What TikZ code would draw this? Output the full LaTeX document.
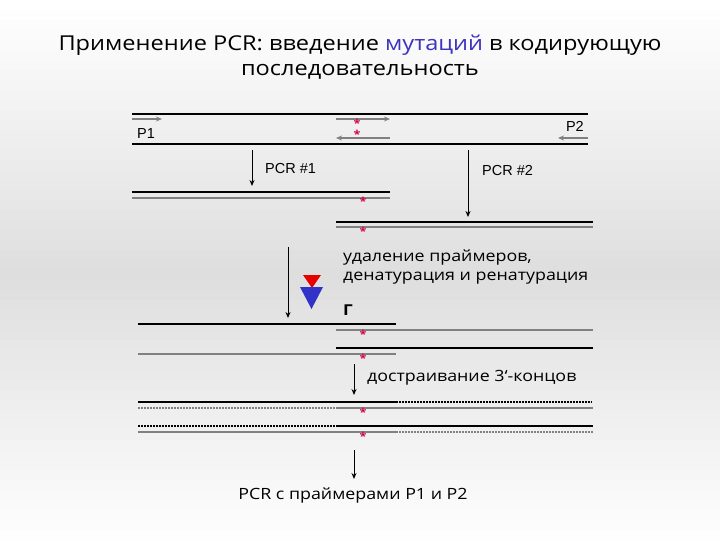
\documentclass[tikz,border=0pt]{standalone}
\usepackage{fontspec}
\setmainfont[FakeStretch=1.15]{Open Sans}
\newfontfamily\labelfont{Liberation Sans}
\definecolor{main}{RGB}{60,50,190}
\definecolor{second}{RGB}{230,0,0}
\definecolor{third}{RGB}{50,50,200}
\definecolor{mutant}{RGB}{210,0,80}
\definecolor{strand}{RGB}{128,128,128}
\definecolor{backg}{RGB}{222,222,222}
\usetikzlibrary{
	arrows.meta,
	positioning
}
\tikzset{
  % strand
	cstdna/.style      ={line width=2.5pt, black},
	cstcopy/.style     ={line width=2pt, strand},
	cstdnad/.style     ={line width=1.2pt, black, dash pattern=on 2pt off 1pt},
	cstcopyd/.style    ={line width=1.2pt, strand, dash pattern=on 2pt off 1pt},
  % arrow
	cstra/.style       ={-{Stealth[length=6pt,width=5pt]}, line width=1pt},
	cstprimer/.style   ={-{Stealth[length=6pt,width=5pt]}, line width=1.3pt, strand},
  % node
	cststar/.style     ={text=mutant, inner sep=0pt, font=\fontsize{11}{11}\selectfont\bfseries},
	cstlabel/.style    ={inner sep=0pt, font=\labelfont\fontsize{14.5}{16}\selectfont},
	csttext/.style     ={inner sep=0pt, align=left, font=\fontsize{15.5}{18.5}\selectfont},
	csttitle/.style    ={inner sep=0pt, font=\fontsize{20.5}{24}\selectfont}
}
\begin{document}
\begin{tikzpicture}[x=1pt,y=-1pt]
	% background
	\foreach \i in {0,...,53}
		\fill[white!\fpeval{100*abs(\i-27)/27}!backg] (0,\i*10) rectangle (720,\i*10+10.5);
	\useasboundingbox (0,0) rectangle (720,540);
	% title
	\node[csttitle] (title) at (360,45) {Применение PCR: введение {\color{main}мутаций} в кодирующую};
	\node[csttitle] (title2) at (360,72) {последовательность};
	% template with primers
	\draw[cstdna] (132,114)--(588,114);
	\draw[cstdna] (132,144)--(588,144);
	\draw[cstprimer] (132,119)--(162,119);
	\draw[cstprimer] (336,119)--(390,119);
	\draw[cstprimer] (390,138)--(336,138);
	\draw[cstprimer] (588,138)--(558,138);
	\node[cstlabel,anchor=west] (p1) at (137,134) {P1};
	\node[cstlabel,anchor=east] (p2) at (584,126) {P2};
	% PCR #1 and PCR #2
	\coordinate (a1s) at (252,150);
	\coordinate (a1e) at (252,186);
	\coordinate (a2s) at (468,150);
	\coordinate (a2e) at (468,217);
	\draw[cstra] (a1s)--(a1e);
	\draw[cstra] (a2s)--(a2e);
	\node[cstlabel,anchor=west] (pcr1) at (265,169) {PCR \#1};
	\node[cstlabel,anchor=west] (pcr2) at (482,171) {PCR \#2};
	\draw[cstdna] (132,192)--(390,192);
	\draw[cstcopy] (132,198)--(390,198);
	\draw[cstdna] (336,222)--(593,222);
	\draw[cstcopy] (336,227)--(593,227);
	% denaturation
	\coordinate (a3s) at (288,247);
	\coordinate (a3e) at (288,318);
	\draw[cstra] (a3s)--(a3e);
	\fill[second] (303,275)--(321,275)--(312,288)--cycle;
	\fill[third] (300,287)--(323,287)--(311.5,309)--cycle;
	\node[csttext,anchor=north west] (step1) at (343,250) {удаление праймеров,\\денатурация и ренатурация};
	\node[inner sep=0pt, font=\fontsize{15}{15}\selectfont\bfseries] (gamma) at (348,310) {Г};
	\draw[cstdna] (138,324)--(396,324);
	\draw[cstcopy] (336,330)--(593,330);
	\draw[cstdna] (336,348)--(593,348);
	\draw[cstcopy] (138,354)--(396,354);
	% extension
	\coordinate (a4s) at (354,364);
	\coordinate (a4e) at (354,395);
	\draw[cstra] (a4s)--(a4e);
	\node[csttext,anchor=west] (step2) at (367,378) {достраивание 3‘-концов};
	\draw[cstdna] (138,402)--(396,402);
	\draw[cstdnad] (396,402)--(592,402);
	\draw[cstcopyd] (138,408)--(336,408);
	\draw[cstcopy] (336,408)--(593,408);
	\draw[cstdnad] (138,426)--(336,426);
	\draw[cstdna] (336,426)--(593,426);
	\draw[cstcopy] (138,432)--(396,432);
	\draw[cstcopyd] (396,432)--(593,432);
	% mutations
	\foreach \x/\y/\n in {357/123/m1, 357/134/m2, 363/201/m3, 363/231/m4, 363/334/m5, 363/358/m6, 363/412/m7, 363/436/m8}
		\node[cststar] (\n) at (\x,\y) {*};
	% final PCR
	\coordinate (a5s) at (354,450);
	\coordinate (a5e) at (354,479);
	\draw[cstra] (a5s)--(a5e);
	\node[csttext] (final) at (353,495) {PCR с праймерами P1 и P2};
\end{tikzpicture}
\end{document}
